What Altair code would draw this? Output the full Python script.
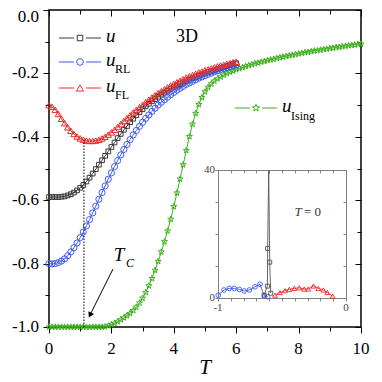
import altair as alt
import pandas as pd

W, H = 312, 317
FONT = "'Liberation Serif', 'Times New Roman', Times, 'DejaVu Serif', serif"
BLACK = "#3a3a3a"
BLUE = "#3f5bf0"
RED = "#ee2b2b"
GREEN = "#3fb21f"
GRAY = "#808080"
STAR = ("M0,-1L0.235,-0.324L0.951,-0.309L0.380,0.124L0.588,0.809L0,0.4"
        "L-0.588,0.809L-0.380,0.124L-0.951,-0.309L-0.235,-0.324Z")

# ---------------- main data ----------------
T_grid = [round(0.1 * i, 1) for i in range(61)]
T_ising = [round(0.1 * i, 1) for i in range(101)]

u_black = [-0.590, -0.590, -0.590, -0.590, -0.589, -0.588, -0.585, -0.581, -0.576, -0.569,
           -0.561, -0.552, -0.541, -0.529, -0.516, -0.502, -0.488, -0.474, -0.460, -0.446,
           -0.432, -0.418, -0.404, -0.391, -0.378, -0.366, -0.354, -0.343, -0.332, -0.322,
           -0.313, -0.304, -0.296, -0.288, -0.281, -0.274, -0.267, -0.261, -0.255, -0.249,
           -0.244, -0.239, -0.234, -0.229, -0.225, -0.220, -0.216, -0.212, -0.208, -0.204,
           -0.200, -0.196, -0.193, -0.190, -0.186, -0.183, -0.180, -0.177, -0.174, -0.171,
           -0.168]
u_rl = [-0.800, -0.801, -0.800, -0.797, -0.792, -0.785, -0.775, -0.763, -0.750, -0.735,
        -0.718, -0.700, -0.681, -0.661, -0.640, -0.619, -0.597, -0.576, -0.555, -0.534,
        -0.514, -0.494, -0.475, -0.457, -0.440, -0.424, -0.409, -0.394, -0.380, -0.367,
        -0.354, -0.342, -0.331, -0.320, -0.310, -0.300, -0.291, -0.283, -0.275, -0.267,
        -0.260, -0.253, -0.247, -0.241, -0.235, -0.230, -0.225, -0.220, -0.215, -0.211,
        -0.207, -0.203, -0.199, -0.195, -0.192, -0.188, -0.185, -0.182, -0.179, -0.176,
        -0.173]
u_fl = [-0.300, -0.305, -0.315, -0.328, -0.343, -0.357, -0.370, -0.381, -0.391, -0.399,
        -0.405, -0.409, -0.412, -0.413, -0.413, -0.412, -0.409, -0.405, -0.400, -0.393,
        -0.386, -0.378, -0.369, -0.360, -0.350, -0.341, -0.332, -0.323, -0.315, -0.307,
        -0.299, -0.291, -0.283, -0.276, -0.269, -0.262, -0.256, -0.250, -0.244, -0.238,
        -0.233, -0.228, -0.223, -0.218, -0.213, -0.209, -0.205, -0.201, -0.197, -0.194,
        -0.190, -0.187, -0.184, -0.181, -0.178, -0.175, -0.173, -0.170, -0.168, -0.165,
        -0.163]
u_ising = [-1.000] * 18 + [-0.999, -0.996,
           -0.992, -0.988, -0.983, -0.977, -0.971, -0.964, -0.957, -0.948, -0.937, -0.924,
           -0.909, -0.891, -0.870, -0.847, -0.821, -0.793, -0.763, -0.731, -0.697, -0.660,
           -0.620, -0.577, -0.533, -0.488, -0.443, -0.399, -0.360, -0.326, -0.298, -0.276,
           -0.258, -0.244, -0.233, -0.224, -0.217, -0.211, -0.205, -0.200, -0.196, -0.192,
           -0.188, -0.185, -0.181, -0.178, -0.175, -0.172, -0.169, -0.167, -0.164, -0.162,
           -0.159, -0.157, -0.155, -0.152, -0.150, -0.148, -0.146, -0.144, -0.142, -0.140,
           -0.138, -0.136, -0.134, -0.133, -0.131, -0.129, -0.128, -0.126, -0.124, -0.123,
           -0.121, -0.120, -0.118, -0.117, -0.115, -0.114, -0.112, -0.111, -0.110, -0.108,
           -0.107]
T_c = 1.12
u_fl_min = -0.41

# ---------------- inset data (T = 0) ----------------
ins_rl_x = [-0.998, -0.953, -0.912, -0.873, -0.834, -0.795, -0.755, -0.711, -0.672, -0.638, -0.612]
ins_rl_y = [0.9, 2.5, 3.0, 3.0, 2.7, 2.2, 2.5, 3.5, 4.3, 0.6, 0.4]
ins_u_x = [-0.640, -0.614, -0.612, -0.604, -0.596, -0.588]
ins_u_y = [0.9, 3.7, 15.5, 1000.0, 11.2, 1.5]
ins_u_marker = [True, True, True, False, True, True]
ins_fl_x = [-0.555, -0.516, -0.477, -0.443, -0.404, -0.365, -0.326, -0.295, -0.255, -0.216, -0.177, -0.146, -0.104]
ins_fl_y = [0.9, 1.7, 2.3, 2.7, 3.0, 3.2, 2.8, 2.8, 3.75, 3.0, 2.5, 1.7, 0.6]

# ---------------- ticks & tick labels ----------------
x_major = [0, 2, 4, 6, 8, 10]
x_major_labels = ["0", "2", "4", "6", "8", "10"]
x_minor = [1, 3, 5, 7, 9]
y_major = [-1.0, -0.8, -0.6, -0.4, -0.2, 0.0]
y_major_labels = ["-1.0", "-0.8", "-0.6", "-0.4", "-0.2", "0.0"]
y_minor = [-0.9, -0.7, -0.5, -0.3, -0.1]
ix_ticks = [-1.0, -0.9, -0.8, -0.7, -0.6, -0.5, -0.4, -0.3, -0.2, -0.1, 0.0]
ix_labels = [-1.0, 0.0]
ix_label_text = ["-1", "0"]
iy_ticks = [0, 10, 20, 30, 40]
iy_labels = [0, 40]
iy_label_text = ["0", "40"]

# ---------------- scales & axes ----------------
xs = alt.Scale(domain=[0, 10], nice=False, zero=False)
ys = alt.Scale(domain=[-1, 0], nice=False, zero=False)
ixs = alt.Scale(domain=[-1, 0], range=[169, 297], nice=False, zero=False)
iys = alt.Scale(domain=[0, 40], range=[288, 160], nice=False, zero=False, clamp=True)

common = dict(grid=False, domain=False, tickColor="black", tickWidth=1, title="", labels=False)

ax_bottom = alt.Axis(orient="bottom", values=x_major, tickSize=6, **common)
ax_bottom_minor = alt.Axis(orient="bottom", values=x_minor, tickSize=4, **common)
ax_top = alt.Axis(orient="bottom", offset=-H, values=x_major, tickSize=6, **common)
ax_top_minor = alt.Axis(orient="bottom", offset=-H, values=x_minor, tickSize=4, **common)
ax_left = alt.Axis(orient="left", values=y_major, tickSize=6, **common)
ax_left_minor = alt.Axis(orient="left", values=y_minor, tickSize=4, **common)
ax_right = alt.Axis(orient="left", offset=-W, values=y_major, tickSize=6, **common)
ax_right_minor = alt.Axis(orient="left", offset=-W, values=y_minor, tickSize=4, **common)

icommon = dict(grid=False, domain=True, domainColor=GRAY, domainWidth=1, tickColor=GRAY,
               tickWidth=1, tickSize=3, title="", labels=False)
iax_bottom = alt.Axis(orient="bottom", offset=-(H - 288), values=ix_ticks, **icommon)
iax_left = alt.Axis(orient="left", offset=-169, values=iy_ticks, **icommon)
iax_top = alt.Axis(orient="bottom", offset=-(H - 160), values=ix_ticks, **icommon)
iax_right = alt.Axis(orient="left", offset=-297, values=iy_ticks, **icommon)

# ---------------- main series ----------------
def series(T, u, color, shape, size, line_axes, point_axes):
    df = pd.DataFrame({"T": T, "u": u})
    base = alt.Chart(df)
    lx, ly = line_axes
    px, py = point_axes
    line = base.mark_line(color=color, strokeWidth=1).encode(
        x=alt.X("T:Q", scale=xs, axis=lx), y=alt.Y("u:Q", scale=ys, axis=ly))
    pts = base.mark_point(color=color, shape=shape, size=size, filled=False, strokeWidth=1,
                          opacity=1).encode(
        x=alt.X("T:Q", scale=xs, axis=px), y=alt.Y("u:Q", scale=ys, axis=py))
    return [line, pts]

layers = []
layers += series(T_ising, u_ising, GREEN, STAR, 40, (ax_bottom, ax_left), (ax_top, ax_right))
layers += series(T_grid, u_black, BLACK, "square", 22, (ax_bottom_minor, ax_left_minor),
                 (ax_top_minor, ax_right_minor))
layers += series(T_grid, u_rl, BLUE, "circle", 38, (None, None), (None, None))
layers += series(T_grid, u_fl, RED, "triangle-up", 40, (None, None), (None, None))

# dotted T_c line
tc_df = pd.DataFrame({"T": [T_c], "u": [-1.0], "u2": [u_fl_min]})
layers.append(alt.Chart(tc_df).mark_rule(color="black", strokeDash=[1.5, 1.5], strokeWidth=1).encode(
    x=alt.X("T:Q", scale=xs, axis=None), y=alt.Y("u:Q", scale=ys, axis=None), y2="u2:Q"))

# tick labels drawn through the scales
xl_df = pd.DataFrame({"v": x_major, "s": x_major_labels})
layers.append(alt.Chart(xl_df).mark_text(font=FONT, fontSize=17, baseline="middle",
                                         align="center", color="black").encode(
    x=alt.X("v:Q", scale=xs, axis=None), y=alt.value(H + 22), text="s:N"))
yl_df = pd.DataFrame({"v": y_major[:-1], "s": y_major_labels[:-1]})
layers.append(alt.Chart(yl_df).mark_text(font=FONT, fontSize=17, baseline="middle",
                                         align="right", color="black").encode(
    y=alt.Y("v:Q", scale=ys, axis=None), x=alt.value(-10), text="s:N"))
yl0_df = pd.DataFrame({"v": y_major[-1:], "s": y_major_labels[-1:]})
layers.append(alt.Chart(yl0_df).mark_text(font=FONT, fontSize=17, baseline="middle",
                                          align="right", color="black", dy=7).encode(
    y=alt.Y("v:Q", scale=ys, axis=None), x=alt.value(-10), text="s:N"))

# ---------------- inset ----------------
def iseries(xv, yv, color, shape, size, axes=(None, None, None, None), marker=None, order=False):
    df = pd.DataFrame({"x": xv, "y": yv, "o": list(range(len(xv)))})
    base = alt.Chart(df)
    enc_line = dict(x=alt.X("x:Q", scale=ixs, axis=axes[0]), y=alt.Y("y:Q", scale=iys, axis=axes[1]))
    if order:
        enc_line["order"] = alt.Order("o:Q")
    line = base.mark_line(color=color, strokeWidth=0.9).encode(**enc_line)
    pdf = df if marker is None else df[marker]
    pts = alt.Chart(pdf).mark_point(color=color, shape=shape, size=size, filled=False,
                                    strokeWidth=0.9, opacity=1).encode(
        x=alt.X("x:Q", scale=ixs, axis=axes[2]), y=alt.Y("y:Q", scale=iys, axis=axes[3]))
    return [line, pts]

layers += iseries(ins_rl_x, ins_rl_y, BLUE, "circle", 22, (iax_bottom, iax_left, iax_top, iax_right))
layers += iseries(ins_u_x, ins_u_y, "#555555", "square", 16, marker=ins_u_marker, order=True)
layers += iseries(ins_fl_x, ins_fl_y, RED, "triangle-up", 24)

ixl_df = pd.DataFrame({"v": ix_labels, "s": ix_label_text})
layers.append(alt.Chart(ixl_df).mark_text(font=FONT, fontSize=11, baseline="middle",
                                          align="center", color="#444").encode(
    x=alt.X("v:Q", scale=ixs, axis=None), y=alt.value(298), text="s:N"))
iyl_df = pd.DataFrame({"v": iy_labels, "s": iy_label_text})
layers.append(alt.Chart(iyl_df).mark_text(font=FONT, fontSize=11, baseline="middle",
                                          align="right", color="#444").encode(
    y=alt.Y("v:Q", scale=iys, axis=None), x=alt.value(166), text="s:N"))

# ---------------- annotations ----------------
dummy = pd.DataFrame({"d": [0]})

def txt(s, x, y, size, style="normal", align="left", color="black"):
    return alt.Chart(dummy).mark_text(text=s, font=FONT, fontSize=size, fontStyle=style,
                                      align=align, baseline="middle", color=color).encode(
        x=alt.value(x), y=alt.value(y))

def hline(x1, x2, y, color):
    return alt.Chart(dummy).mark_rule(color=color, strokeWidth=1).encode(
        x=alt.value(x1), x2=alt.value(x2), y=alt.value(y))

def marker(x, y, color, shape, size):
    return alt.Chart(dummy).mark_point(color=color, shape=shape, size=size, filled=False,
                                       strokeWidth=1, opacity=1).encode(
        x=alt.value(x), y=alt.value(y))

# x axis title
layers.append(txt("T", 156, 358, 21, "italic", align="center"))

# legend block (top left)
for (yy, col, shp, sz, sub) in [(28, BLACK, "square", 30, ""), (52, BLUE, "circle", 45, "RL"),
                                (78, RED, "triangle-up", 50, "FL")]:
    layers.append(hline(10, 25, yy, col))
    layers.append(hline(37, 52, yy, col))
    layers.append(marker(31, yy, col, shp, sz))
    layers.append(txt("u", 57, yy - 2, 19, "italic"))
    if sub:
        layers.append(txt(sub, 66, yy + 7, 12))

# Ising legend
layers.append(hline(186, 201, 98, GREEN))
layers.append(hline(213, 228, 98, GREEN))
layers.append(marker(207, 98, GREEN, STAR, 55))
layers.append(txt("u", 233, 96, 19, "italic"))
layers.append(txt("Ising", 242, 106, 12))

layers.append(txt("3D", 138, 27, 18, align="center"))

# T_c label and arrow
layers.append(txt("T", 70, 245, 19, "italic", align="center"))
layers.append(txt("C", 77, 253, 12, "italic"))
layers.append(alt.Chart(dummy).mark_rule(color="black", strokeWidth=1).encode(
    x=alt.value(64), y=alt.value(259), x2=alt.value(42), y2=alt.value(303)))
layers.append(alt.Chart(dummy).mark_point(shape="triangle-up", filled=True, color="black",
                                          size=40, angle=206.6, opacity=1).encode(
    x=alt.value(41), y=alt.value(305)))

# inset label
layers.append(txt("T", 249, 202, 13, "italic", align="center", color="#333"))
layers.append(txt("= 0", 255, 202, 13, color="#333"))

chart = alt.layer(*layers).resolve_scale(x="independent", y="independent").properties(
    width=W, height=H,
    autosize=alt.AutoSizeParams(type="none"),
    padding={"left": 41, "top": 2, "right": 10, "bottom": 52},
).configure_view(stroke="black", strokeWidth=1.5)

chart.save("out.html", embed_options={"renderer": "svg", "actions": False})
